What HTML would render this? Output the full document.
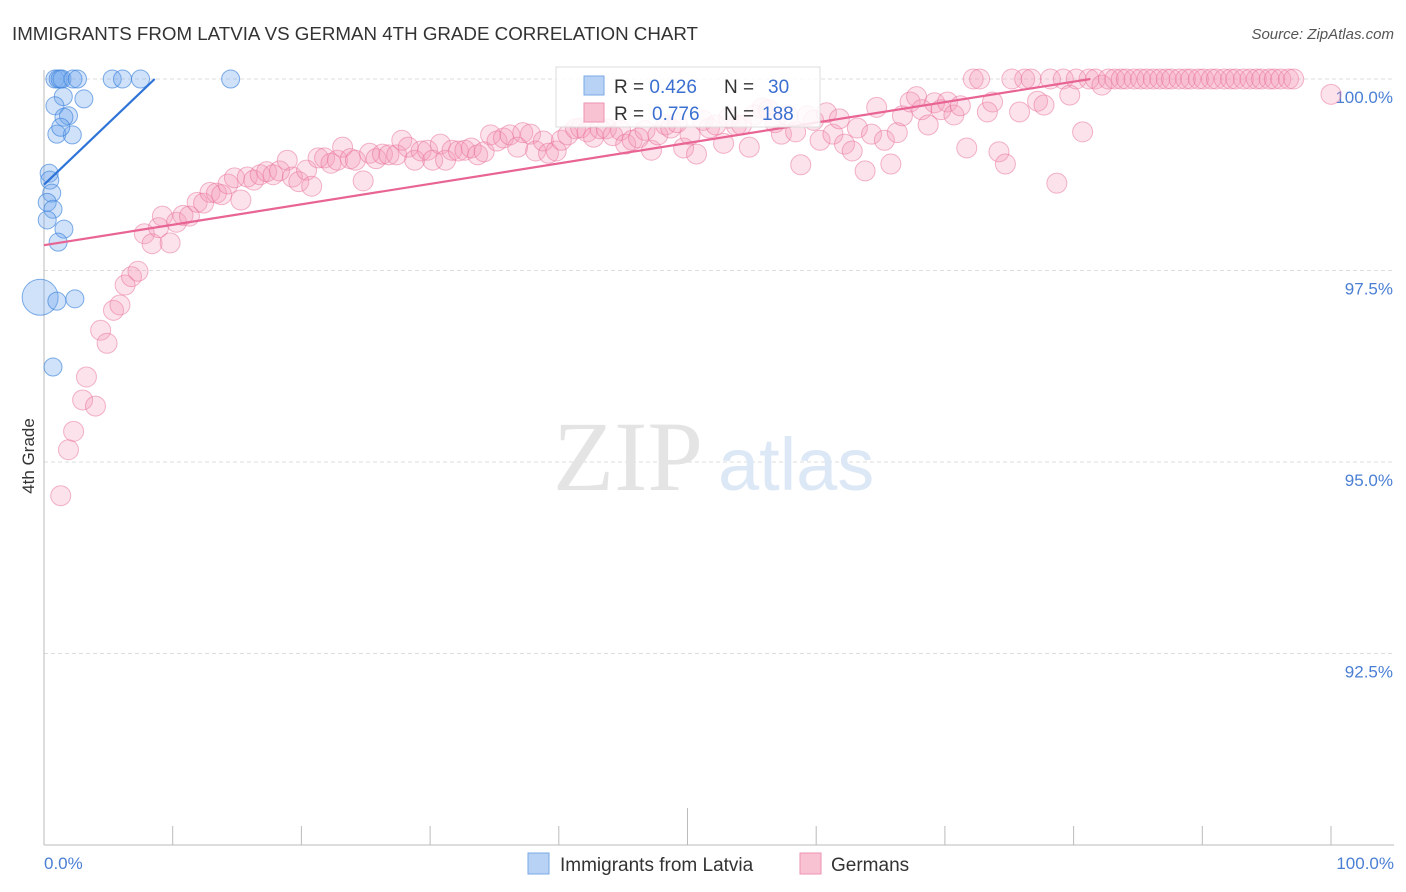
<!DOCTYPE html>
<html><head><meta charset="utf-8"><style>
body{margin:0;background:#fff;font-family:"Liberation Sans",sans-serif}
svg{display:block}
</style></head><body>
<svg id="chart" width="1406" height="892" xmlns="http://www.w3.org/2000/svg">
<text x="12" y="40" font-size="18" fill="#333" textLength="686" lengthAdjust="spacingAndGlyphs">IMMIGRANTS FROM LATVIA VS GERMAN 4TH GRADE CORRELATION CHART</text>
<text x="1394" y="39" font-size="15" fill="#555" font-style="italic" text-anchor="end">Source: ZipAtlas.com</text>
<g id="grid"></g>
<g>
<text x="553" y="490" font-family="Liberation Serif,serif" font-size="100" fill="#e4e4e4">ZIP</text>
<text x="718" y="490" font-size="74" fill="#dde8f6">atlas</text>
</g>
<line x1="44" y1="70" x2="44" y2="845" stroke="#bbb"/>
<line x1="44" y1="845" x2="1394" y2="845" stroke="#bbb"/>
<g id="xticks"></g>
<g id="ylabels"></g>
<text x="44" y="869" font-size="17" fill="#4a7fd4">0.0%</text>
<text x="1394" y="869" font-size="17" fill="#4a7fd4" text-anchor="end">100.0%</text>
<text transform="translate(34,456) rotate(-90)" font-size="17" fill="#333" text-anchor="middle">4th Grade</text>
<g id="pinkpts"></g>
<g id="bluepts"></g>
<g id="lines"></g>
<g>
<rect x="556" y="67" width="264" height="60" fill="#fff" fill-opacity="0.85" stroke="#ddd"/>
<rect x="584" y="76" width="20" height="19" fill="#b7d2f5" stroke="#7aa9e6"/>
<rect x="584" y="103" width="20" height="19" fill="#f9c2d3" stroke="#ee93b1"/>
<text x="614" y="93" font-size="19" fill="#333">R = <tspan fill="#3b6fd0">0.426</tspan></text>
<text x="724" y="93" font-size="19" fill="#333">N = <tspan fill="#3b6fd0" x="768">30</tspan></text>
<text x="614" y="120" font-size="19" fill="#333">R = <tspan fill="#3b6fd0" x="652">0.776</tspan></text>
<text x="724" y="120" font-size="19" fill="#333">N = <tspan fill="#3b6fd0" x="762">188</tspan></text>
</g>
<g>
<rect x="528" y="853" width="21" height="21" fill="#b7d2f5" stroke="#7aa9e6"/>
<text x="560" y="871" font-size="19" fill="#333">Immigrants from Latvia</text>
<rect x="800" y="853" width="21" height="21" fill="#f9c2d3" stroke="#ee93b1"/>
<text x="831" y="871" font-size="19" fill="#333">Germans</text>
</g>
</svg>
<script>
const yTicks=[100,97.5,95,92.5];
const yTickLabels=["100.0%","97.5%","95.0%","92.5%"];
const xTicks=[0,10,20,30,40,50,60,70,80,90,100];
const blueX=[0.85,1.1,1.25,1.4,2.25,2.6,5.3,6.1,7.5,14.5,1.5,3.1,0.85,1.9,1.55,1.0,2.2,1.3,0.4,0.45,0.6,0.25,0.7,0.25,1.55,1.1,-0.3,1.0,2.4,0.7];
const blueY=[100,100,100,100,100,100,100,100,100,100,99.77,99.74,99.65,99.52,99.5,99.28,99.27,99.37,98.77,98.68,98.51,98.39,98.3,98.16,98.04,97.87,97.15,97.1,97.13,96.24];
const blueR=[9,9,9,9,9,9,9,9,9,9,9,9,9,9,9,9,9,9,9,9,9,9,9,9,9,9,18,9,9,9];
const pinkX=[1.3,1.9,2.3,3.0,4.0,3.3,4.4,4.9,5.4,5.9,6.3,6.8,7.3,7.8,8.4,8.9,9.2,9.8,10.3,10.8,11.3,11.9,12.4,12.9,13.4,13.8,14.3,14.8,15.3,15.8,16.3,16.8,17.3,17.8,18.3,18.9,19.3,19.8,20.4,20.8,21.3,21.8,22.3,22.8,23.2,23.8,24.2,24.8,25.3,25.8,26.3,26.8,27.4,27.8,28.3,28.8,29.3,29.8,30.2,30.8,31.2,31.7,32.2,32.7,33.2,33.7,34.2,34.7,35.2,35.7,36.2,36.8,37.2,37.8,38.2,38.8,39.2,39.8,40.2,40.7,41.3,41.7,42.2,42.7,43.2,43.7,44.2,44.8,45.2,45.7,46.2,46.7,47.2,47.7,48.3,48.7,49.2,49.7,50.2,50.7,51.2,51.7,52.2,52.8,53.2,53.8,54.2,54.8,55.2,55.8,56.3,56.8,57.3,57.8,58.4,58.8,59.3,59.8,60.3,60.8,61.3,61.8,62.2,62.8,63.2,63.8,64.3,64.7,65.3,65.8,66.3,66.7,67.3,67.8,68.2,68.7,69.2,69.7,70.2,70.7,71.2,71.7,72.2,72.7,73.3,73.7,74.2,74.7,75.2,75.8,76.2,76.7,77.2,77.7,78.2,78.7,79.2,79.7,80.2,80.7,81.2,81.7,82.2,82.7,83.2,83.7,84.1,84.7,85.2,85.7,86.2,86.7,87.2,87.6,88.2,88.7,89.1,89.7,90.1,90.7,91.1,91.7,92.2,92.6,93.2,93.7,94.2,94.6,95.2,95.6,96.1,96.7,97.1,100];
const pinkY=[94.56,95.16,95.4,95.81,95.73,96.11,96.72,96.55,96.98,97.05,97.31,97.42,97.49,97.98,97.85,98.06,98.21,97.86,98.13,98.22,98.21,98.39,98.38,98.52,98.51,98.49,98.63,98.71,98.42,98.72,98.68,98.75,98.79,98.75,98.8,98.94,98.72,98.66,98.81,98.6,98.97,98.97,98.9,98.94,99.11,98.96,98.94,98.67,99.03,98.96,99.02,99.01,99.01,99.2,99.11,98.94,99.06,99.07,98.94,99.15,98.94,99.07,99.06,99.07,99.1,99.01,99.05,99.27,99.19,99.23,99.27,99.11,99.3,99.28,99.06,99.19,99.03,99.06,99.2,99.27,99.35,99.36,99.31,99.24,99.35,99.35,99.26,99.33,99.15,99.2,99.23,99.33,99.07,99.27,99.4,99.36,99.43,99.1,99.27,99.02,99.46,99.36,99.4,99.16,99.49,99.39,99.4,99.11,99.53,99.62,99.6,99.43,99.28,99.52,99.31,98.88,99.52,99.46,99.2,99.56,99.28,99.48,99.15,99.06,99.36,98.8,99.28,99.63,99.2,98.89,99.3,99.52,99.7,99.77,99.6,99.4,99.69,99.6,99.7,99.53,99.65,99.1,100,100,99.57,99.7,99.05,98.89,100,99.57,100,100,99.71,99.66,100,98.64,100,99.79,100,99.31,100,100,99.92,100,100,100,100,100,100,100,100,100,100,100,100,100,100,100,100,100,100,100,100,100,100,100,100,100,100,100,100,100,100,99.8];
const blueTrendX=[0,8.6];
const blueTrendY=[98.62,100];
const pinkTrendX=[0,81.3];
const pinkTrendY=[97.83,100];
const NS="http://www.w3.org/2000/svg";
const X=v=>44+v*12.87;
const Y=v=>79+(100-v)*76.6;
function mk(t,a,p){const e=document.createElementNS(NS,t);for(const k in a)e.setAttribute(k,a[k]);p.appendChild(e);return e;}
const grid=document.getElementById('grid'),yl=document.getElementById('ylabels');
yTicks.forEach((t,i)=>{
 const l=mk('line',{x1:44,x2:1394,y1:Y(t),y2:Y(t),stroke:'#ddd','stroke-dasharray':'4,3'},grid);
 
 
 const tx=mk('text',{x:1393,y:Y(t)+24,'font-size':17,fill:'#4a7fd4','text-anchor':'end'},yl);
 tx.textContent=yTickLabels[i];
 
 
});
const xt=document.getElementById('xticks');
xTicks.forEach(t=>{
 const l=mk('line',{x1:X(t),x2:X(t),y1:t===50?808:826,y2:845,stroke:'#bbb'},xt);
 
 
});
const pp=document.getElementById('pinkpts');
const n=Math.min(pinkX.length,pinkY.length);
for(let i=0;i<n;i++){
 const c=mk('circle',{cx:X(pinkX[i]),cy:Y(pinkY[i]),r:10,fill:'rgba(244,150,183,0.28)',stroke:'rgba(232,110,150,0.5)','stroke-width':1},pp);
 
 
}
const bp=document.getElementById('bluepts');
blueX.forEach((x,i)=>{
 const c=mk('circle',{cx:X(x),cy:Y(blueY[i]),r:blueR[i],fill:'rgba(110,165,235,0.32)',stroke:'rgba(60,130,220,0.65)','stroke-width':1},bp);
 
 
});
const lg=document.getElementById('lines');
const bl=mk('line',{x1:X(blueTrendX[0]),y1:Y(blueTrendY[0]),x2:X(blueTrendX[1]),y2:Y(blueTrendY[1]),stroke:'#2f74d8','stroke-width':2.2},lg);


const pl=mk('line',{x1:X(pinkTrendX[0]),y1:Y(pinkTrendY[0]),x2:X(pinkTrendX[1]),y2:Y(pinkTrendY[1]),stroke:'#e86493','stroke-width':2.2},lg);


</script>
</body></html>
